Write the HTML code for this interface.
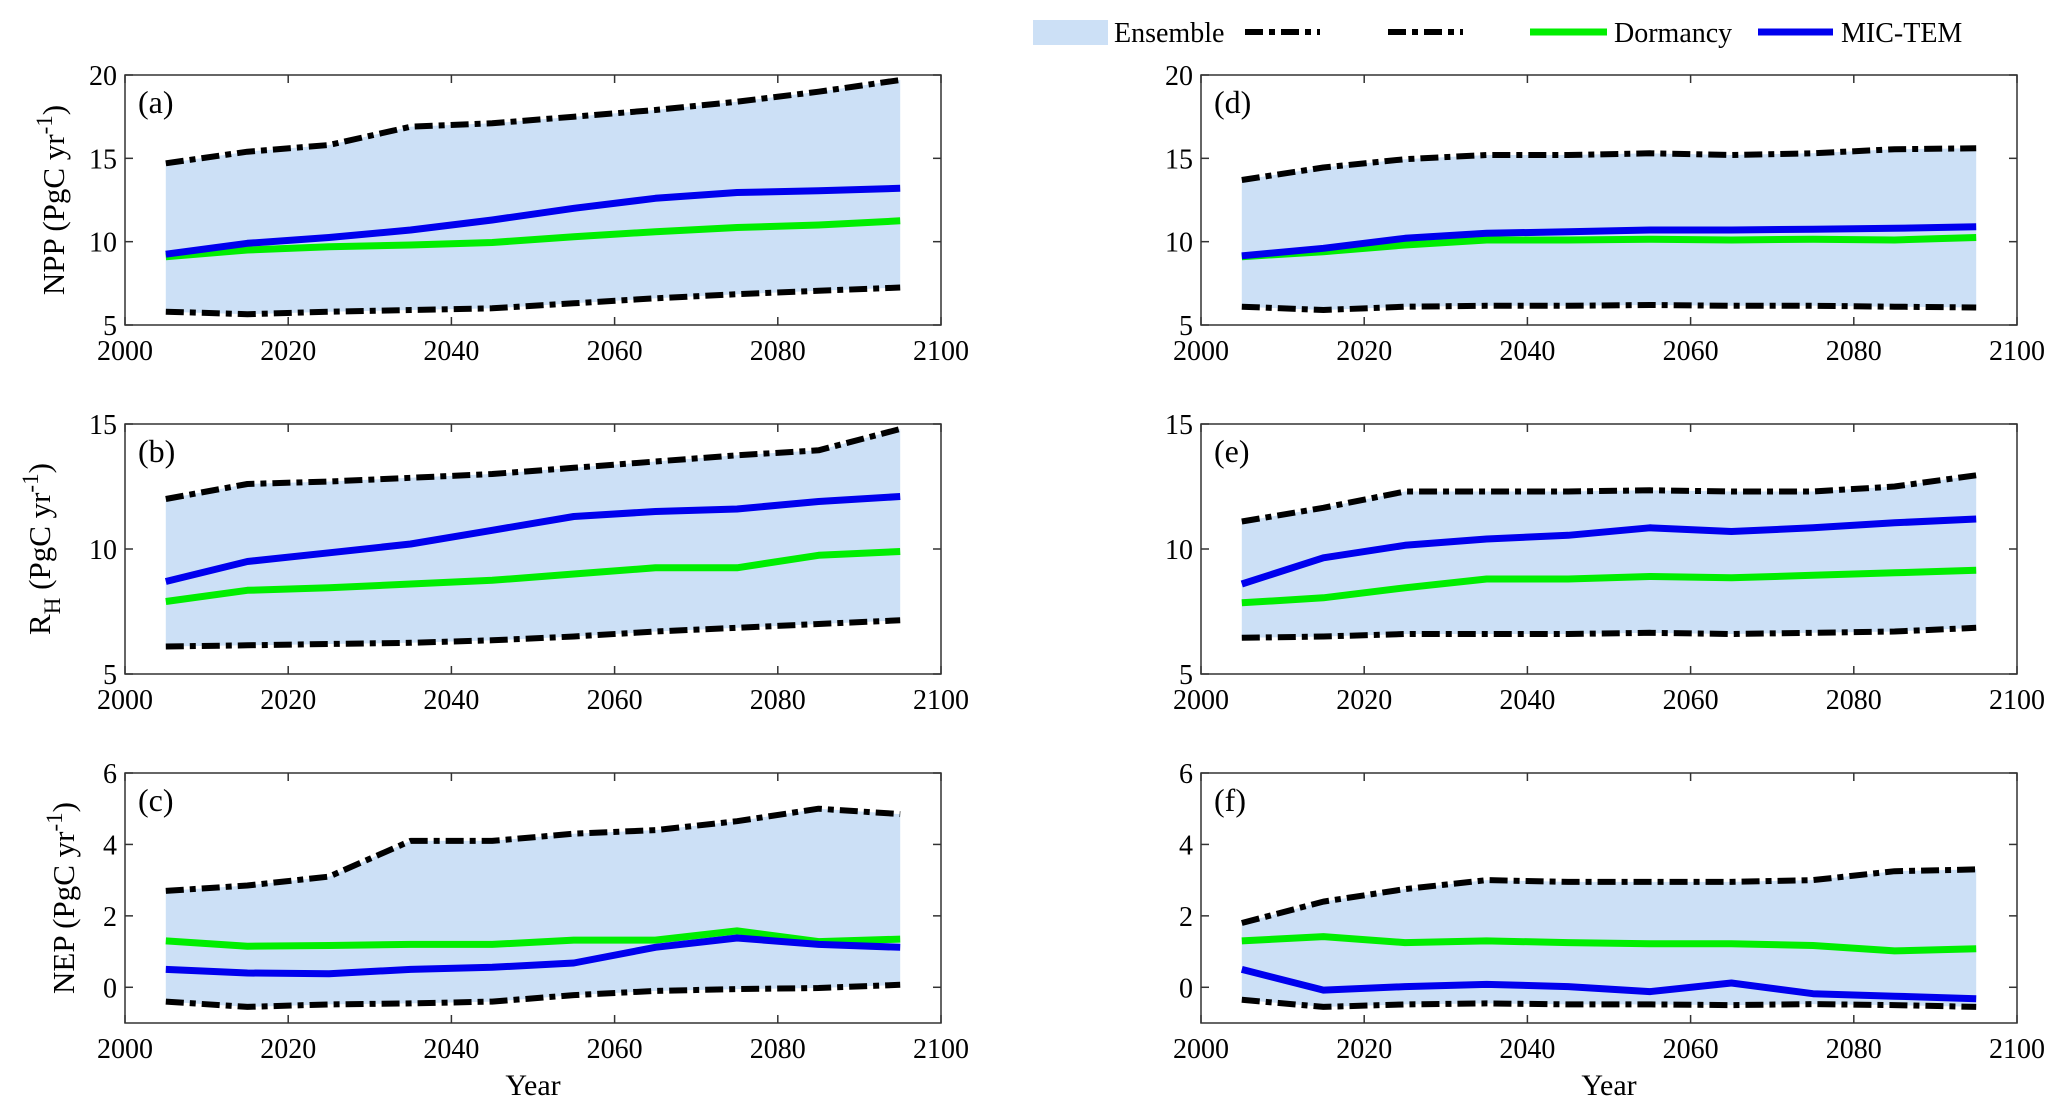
<!DOCTYPE html>
<html><head><meta charset="utf-8"><style>
html,body{margin:0;padding:0;background:#fff;}
svg{display:block;font-family:"Liberation Serif",serif;}
</style></head><body>
<svg id="fig" width="2067" height="1119" viewBox="0 0 2067 1119" xmlns="http://www.w3.org/2000/svg">
<g>
<rect x="1033" y="20" width="75" height="25" fill="#cce0f6"/>
<text x="1114" y="42" font-size="28">Ensemble</text>
<line x1="1245" y1="32" x2="1320" y2="32" stroke="#000" stroke-width="6" stroke-dasharray="18,6,6,6"/>
<line x1="1388" y1="32" x2="1463" y2="32" stroke="#000" stroke-width="6" stroke-dasharray="18,6,6,6"/>
<line x1="1530" y1="32" x2="1607" y2="32" stroke="#00ee00" stroke-width="7"/>
<text x="1614" y="42" font-size="28">Dormancy</text>
<line x1="1758" y1="32" x2="1833" y2="32" stroke="#0000ee" stroke-width="7"/>
<text x="1841" y="42" font-size="28">MIC-TEM</text>
</g>
</svg>
<script>
const years=[2005,2015,2025,2035,2045,2055,2065,2075,2085,2095];
const xTicks=[2000,2020,2040,2060,2080,2100];
const aUpper=[14.7,15.4,15.8,16.9,17.1,17.5,17.9,18.4,19.0,19.7];
const aLower=[5.8,5.65,5.8,5.9,6.0,6.3,6.6,6.85,7.05,7.25];
const aBlue=[9.25,9.9,10.25,10.7,11.3,12.0,12.6,12.95,13.05,13.2];
const aGreen=[9.1,9.5,9.7,9.8,9.95,10.3,10.6,10.85,11.0,11.25];
const dUpper=[13.7,14.45,14.95,15.2,15.2,15.3,15.2,15.3,15.55,15.6];
const dLower=[6.1,5.9,6.1,6.15,6.15,6.2,6.15,6.15,6.1,6.05];
const dBlue=[9.15,9.6,10.2,10.5,10.6,10.7,10.7,10.75,10.8,10.9];
const dGreen=[9.1,9.4,9.8,10.1,10.1,10.15,10.1,10.15,10.1,10.25];
const bUpper=[12.0,12.6,12.7,12.85,13.0,13.25,13.5,13.75,13.95,14.8];
const bLower=[6.1,6.15,6.2,6.25,6.35,6.5,6.7,6.85,7.0,7.15];
const bBlue=[8.7,9.5,9.85,10.2,10.75,11.3,11.5,11.6,11.9,12.1];
const bGreen=[7.9,8.35,8.45,8.6,8.75,9.0,9.25,9.25,9.75,9.9];
const eUpper=[11.1,11.65,12.3,12.3,12.3,12.35,12.3,12.3,12.5,12.95];
const eLower=[6.45,6.5,6.6,6.6,6.6,6.65,6.6,6.65,6.7,6.85];
const eBlue=[8.6,9.65,10.15,10.4,10.55,10.85,10.7,10.85,11.05,11.2];
const eGreen=[7.85,8.05,8.45,8.8,8.8,8.9,8.85,8.95,9.05,9.15];
const cUpper=[2.7,2.85,3.1,4.1,4.1,4.3,4.4,4.65,5.0,4.85];
const cLower=[-0.4,-0.55,-0.48,-0.45,-0.4,-0.22,-0.1,-0.05,-0.02,0.07];
const cBlue=[0.5,0.4,0.38,0.5,0.56,0.68,1.12,1.38,1.2,1.12];
const cGreen=[1.3,1.15,1.17,1.2,1.2,1.32,1.32,1.58,1.28,1.35];
const fUpper=[1.8,2.4,2.75,3.0,2.95,2.95,2.95,3.0,3.25,3.3];
const fLower=[-0.35,-0.55,-0.48,-0.45,-0.48,-0.48,-0.5,-0.47,-0.5,-0.55];
const fBlue=[0.5,-0.08,0.02,0.08,0.02,-0.12,0.12,-0.18,-0.25,-0.32];
const fGreen=[1.3,1.42,1.25,1.3,1.25,1.22,1.22,1.17,1.02,1.08];
const NS="http://www.w3.org/2000/svg";
const svg=document.getElementById('fig');
function mk(tag,attrs,parent){const e=document.createElementNS(NS,tag);for(const k in attrs)e.setAttribute(k,attrs[k]);(parent||svg).appendChild(e);return e;}
const panels=[
 {id:'a',x:125,y:75,ymin:5,ymax:20,yt:[5,10,15,20],up:aUpper,lo:aLower,bl:aBlue,gr:aGreen,lab:'npp'},
 {id:'b',x:125,y:424,ymin:5,ymax:15,yt:[5,10,15],up:bUpper,lo:bLower,bl:bBlue,gr:bGreen,lab:'rh'},
 {id:'c',x:125,y:773,ymin:-1,ymax:6,yt:[0,2,4,6],up:cUpper,lo:cLower,bl:cBlue,gr:cGreen,lab:'nep',year:true},
 {id:'d',x:1201,y:75,ymin:5,ymax:20,yt:[5,10,15,20],up:dUpper,lo:dLower,bl:dBlue,gr:dGreen},
 {id:'e',x:1201,y:424,ymin:5,ymax:15,yt:[5,10,15],up:eUpper,lo:eLower,bl:eBlue,gr:eGreen},
 {id:'f',x:1201,y:773,ymin:-1,ymax:6,yt:[0,2,4,6],up:fUpper,lo:fLower,bl:fBlue,gr:fGreen,year:true}];
const W=816,H=250;
panels.forEach(p=>{
 const g=mk('g',{});
 
 
 const xs=v=>p.x+(v-2000)/100*W;
 const ys=v=>p.y+H-(v-p.ymin)/(p.ymax-p.ymin)*H;
 const pts=a=>a.map((v,i)=>xs(years[i]).toFixed(1)+','+ys(v).toFixed(1));
 const band=mk('polygon',{points:pts(p.up).concat(pts(p.lo).reverse()).join(' '),fill:'#cce0f6'},g);
 
 
 const series=[[p.up,'#000',6,'18,6,6,6','ensemble-upper-line'],[p.lo,'#000',6,'18,6,6,6','ensemble-lower-line'],[p.gr,'#00ee00',7,'','dormancy-line'],[p.bl,'#0000ee',7,'','mictem-line']];
 series.forEach(s=>{
  const l=mk('polyline',{points:pts(s[0]).join(' '),fill:'none',stroke:s[1],'stroke-width':s[2],'stroke-linejoin':'round'},g);
  if(s[3])l.setAttribute('stroke-dasharray',s[3]);
  
  
 });
 const fr=mk('rect',{x:p.x,y:p.y,width:W,height:H,fill:'none',stroke:'#333','stroke-width':1.5},g);
 
 
 xTicks.forEach(t=>{
  const x=xs(t);
  mk('line',{x1:x,y1:p.y+H,x2:x,y2:p.y+H-8,stroke:'#333','stroke-width':1.5},g);
  mk('line',{x1:x,y1:p.y,x2:x,y2:p.y+8,stroke:'#333','stroke-width':1.5},g);
  const tx=mk('text',{x:x,y:p.y+H+35,'font-size':28,'text-anchor':'middle'},g);
  tx.textContent=t;
  
  
 });
 p.yt.forEach(t=>{
  const y=ys(t);
  mk('line',{x1:p.x,y1:y,x2:p.x+8,y2:y,stroke:'#333','stroke-width':1.5},g);
  mk('line',{x1:p.x+W,y1:y,x2:p.x+W-8,y2:y,stroke:'#333','stroke-width':1.5},g);
  const ty=mk('text',{x:p.x-8,y:y+10,'font-size':28,'text-anchor':'end'},g);
  ty.textContent=t;
  
  
 });
 const pl=mk('text',{x:p.x+13,y:p.y+38,'font-size':32},g);
 pl.textContent='('+p.id+')';
 
 
 if(p.year){
  const yl=mk('text',{x:p.x+W/2,y:p.y+H+72,'font-size':30,'text-anchor':'middle'},g);
  yl.textContent='Year';
  
  
 }
 if(p.lab){
  const cy=p.y+H/2;
  let lx=p.lab==='npp'?64:(p.lab==='rh'?50:74);
  const t=mk('text',{transform:'translate('+lx+','+cy+') rotate(-90)','font-size':31,'text-anchor':'middle'},g);
  
  
  if(p.lab==='rh'){
   t.innerHTML='R<tspan dy="10" font-size="23">H</tspan><tspan dy="-10"> (PgC yr</tspan><tspan dy="-12" font-size="23">-1</tspan><tspan dy="12">)</tspan>';
  }else{
   const nm=p.lab==='npp'?'NPP':'NEP';
   t.innerHTML=nm+' (PgC yr<tspan dy="-12" font-size="23">-1</tspan><tspan dy="12">)</tspan>';
  }
 }
});
</script>
</body></html>
